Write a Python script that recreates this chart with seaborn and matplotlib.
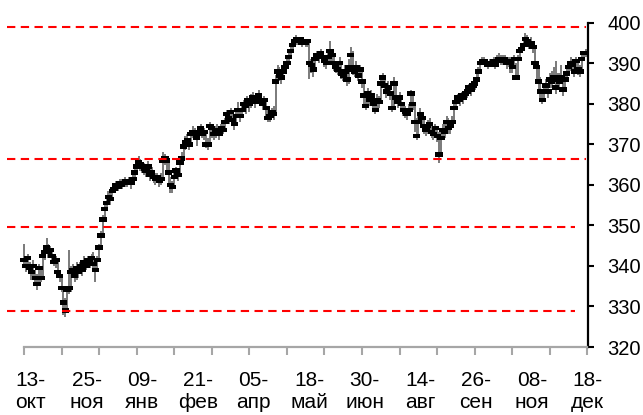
import numpy as np
import pandas as pd
import matplotlib
matplotlib.use("Agg")
import matplotlib.pyplot as plt
from matplotlib.ticker import NullFormatter
import seaborn as sns

# ---------------- data ----------------
close = [
    341.5, 340, 342, 339.5, 338.5, 340, 337, 335.5, 339.5, 337,
    342.5, 343.5, 344.5, 343.5, 344, 342.5, 341, 341.5, 338.5, 337.5,
    334.5, 331, 329, 334, 334.5, 338.5, 339, 337.5, 339.5, 338.5,
    340, 339, 341, 340, 341.5, 341, 342, 340.5, 339, 341.5,
    344.5, 347.5, 351.5, 354, 355.5, 357, 356.5, 358.5, 359, 360,
    359.5, 360.5, 360, 360.5, 361, 360.5, 361, 360.5, 361.5, 363,
    364.5, 365.5, 365, 364.5, 364, 363.5, 364.5, 362.5, 363, 362,
    361.5, 362, 361, 361.5, 366, 366.5, 366, 363, 360, 359.5,
    362, 363.5, 362.5, 365.5, 366.5, 369.5, 370.5, 371, 370, 372.5,
    373, 372.5, 371.5, 373, 374, 372.5, 373, 370, 370, 374.5,
    374, 372.5, 373, 373.5, 372.5, 374, 373.5, 375.5, 377.5, 376.5,
    378, 376, 375, 377, 378.5, 377, 378.5, 380, 379.5, 381,
    380, 380.5, 381.5, 380.5, 381.5, 382, 381, 380, 381, 379,
    376.5, 377, 378, 377.5, 385.5, 388, 387, 386.5, 388, 389,
    390, 391.5, 393, 394.5, 395.5, 396, 395.5, 396, 395, 395.5,
    395, 395.5, 390, 389.5, 388.5, 391, 392, 391.5, 392.5, 391.5,
    390.5, 390, 391.5, 393, 392, 390, 389, 388.5, 390, 387.5,
    387, 388, 386, 389, 392, 388.5, 388, 389, 387, 388.5,
    385.5, 382, 379.5, 382.5, 381, 382, 380, 378.5, 381, 380.5,
    385, 386.5, 384.5, 383, 384, 382.5, 379, 385, 381.5, 380.5,
    381.5, 380, 378.5, 378, 377.5, 378.5, 382.5, 380, 375.5, 372,
    375.5, 377.5, 376.5, 374.5, 373.5, 374.5, 375, 373, 372.5, 374,
    372, 367.5, 371.5, 373.5, 373, 375.5, 374, 374.5, 375.5, 379,
    380.5, 381.5, 381, 382, 381.5, 382.5, 383, 384, 383.5, 384.5,
    385, 386, 388, 390, 390.5, 390.5, 390, 389.5, 390, 390,
    390.5, 389.5, 390.5, 391, 391, 390.5, 391, 390, 390.5, 390,
    389, 391, 386.5, 391, 393, 393.5, 394.5, 396, 395.5, 394.5,
    395, 394, 390, 389, 385.5, 383, 381, 383, 384.5, 383,
    386, 385.5, 386.5, 384, 386, 385.5, 386.5, 383.5, 386, 387.5,
    389, 390, 389.5, 388, 390.5, 388.5, 388, 391, 392.5, 392.5, 392.5,
]
high = [
    345.5, 342, 343, 341, 340, 341.5, 339, 338, 340.5, 339.5,
    343, 344.5, 347, 345.5, 345, 344.5, 343, 342.5, 341.5, 339,
    337.5, 335, 332, 335, 344, 340, 340.5, 339.5, 341, 340,
    341, 341, 342.5, 341.5, 342.5, 342.5, 343, 343.5, 341, 342.5,
    345.5, 348.5, 352.5, 355.5, 357, 358.5, 358, 359.5, 360, 361,
    361, 361.5, 361.5, 361.5, 362, 361.5, 362, 362, 363, 364,
    366, 367, 366.5, 365.5, 365.5, 365, 366, 364, 364.5, 363.5,
    363, 363, 362.5, 363, 368, 367.5, 367, 366, 362, 361,
    363, 364.5, 364, 366.5, 368, 371, 372, 372.5, 371.5, 373.5,
    374.5, 374, 373, 374, 375, 374.5, 374, 373, 371.5, 375.5,
    375, 374.5, 374.5, 375, 374, 375, 375.5, 376.5, 378.5, 378,
    379, 378.5, 376.5, 378, 380.5, 378.5, 379.5, 381, 381, 382,
    381.5, 382.5, 383, 382, 382.5, 383.5, 382.5, 381.5, 382, 381,
    379, 378, 379, 379.5, 387, 389.5, 389, 388, 389.5, 390.5,
    391, 392.5, 394.5, 396, 396.5, 397, 396.5, 396.5, 396, 396,
    396, 396, 395.5, 391, 390.5, 392, 393, 393, 393.5, 393,
    392, 391.5, 393, 395.5, 393.5, 391.5, 390.5, 390, 391.5, 389.5,
    388.5, 389.5, 388, 391, 394, 393, 389.5, 390.5, 389, 389.5,
    388, 386, 383, 384, 383, 383.5, 382, 380.5, 382.5, 382,
    386.5, 387.5, 386.5, 384.5, 385.5, 384, 383, 386.5, 384.5, 382,
    383, 382, 380, 379.5, 379, 380, 383.5, 383, 380.5, 376.5,
    377, 379, 378, 376.5, 375, 376, 376.5, 375, 374.5, 375,
    374.5, 373, 373, 375, 375.5, 377, 376.5, 376, 377, 380.5,
    381.5, 382.5, 382.5, 383, 383, 383.5, 384, 385, 385, 385.5,
    386, 387.5, 389, 391, 391.5, 391.5, 391, 390.5, 391, 391,
    391.5, 391, 392, 392.5, 392, 392, 392, 391.5, 391.5, 391.5,
    391, 392, 390, 392, 394, 394.5, 396, 397.5, 397, 396,
    396.5, 395.5, 394.5, 390.5, 389.5, 386.5, 383.5, 384.5, 386, 385,
    387.5, 388, 389, 390.5, 387.5, 387.5, 389.5, 387, 387.5, 389,
    390, 391.5, 391, 390, 391.5, 390.5, 389.5, 392, 393, 393.5, 393,
]
low = [
    339.5, 338.5, 339.5, 338, 336.5, 337, 335, 334, 335.5, 336,
    337, 341.5, 343, 342, 342.5, 341, 340, 339.5, 337.5, 336,
    333.5, 328, 327.5, 328.5, 333, 333.5, 337, 336, 336.5, 337,
    338, 337.5, 338.5, 339, 340, 339.5, 340.5, 339, 336, 338.5,
    341, 344, 347, 351, 353.5, 355, 355, 356, 358, 358.5,
    358.5, 359, 359, 359.5, 359.5, 359.5, 360, 359, 360, 361,
    362.5, 364, 363.5, 363, 362.5, 362, 362.5, 361, 361.5, 360.5,
    360, 360.5, 359.5, 360, 361, 365, 363.5, 360, 358, 358,
    359.5, 361.5, 361, 362.5, 365, 366, 368.5, 369.5, 368.5, 370,
    371.5, 371, 369.5, 371, 372.5, 371.5, 371, 369, 368.5, 370,
    371.5, 371, 371.5, 372, 371, 372, 372.5, 373, 375, 375,
    376, 374.5, 373.5, 374.5, 376.5, 375.5, 376.5, 378, 377.5, 379,
    378, 379, 380, 379, 380, 380.5, 379.5, 378.5, 379, 377,
    375.5, 375.5, 376.5, 376, 377, 385, 385.5, 385, 386, 387.5,
    388.5, 389.5, 391, 392.5, 394, 394.5, 394.5, 394.5, 394, 394.5,
    394, 394, 386, 387.5, 386.5, 388, 390.5, 390, 391, 390,
    389, 388.5, 389.5, 390.5, 390, 388, 387.5, 387, 388, 386,
    385.5, 386, 384.5, 385, 388, 387, 386.5, 387, 385.5, 386.5,
    384, 379, 378.5, 380, 379.5, 380, 378.5, 377.5, 378, 379,
    380.5, 384.5, 383, 381.5, 382, 381, 378, 379, 380, 379,
    379.5, 378.5, 377, 376.5, 376, 377, 378, 378.5, 373, 371,
    372, 375, 374.5, 372.5, 372, 372.5, 373, 371.5, 371, 372,
    370.5, 365.5, 367, 371, 371.5, 373, 372.5, 372.5, 374, 375,
    379, 380, 379.5, 380.5, 380, 381, 381.5, 382.5, 382, 383,
    383.5, 384.5, 385.5, 387.5, 389.5, 389.5, 389, 388.5, 389, 389,
    389.5, 388.5, 389, 390, 389.5, 389.5, 390, 388.5, 389, 387.5,
    387.5, 388.5, 386, 386.5, 391, 392.5, 393, 394.5, 394, 393.5,
    393.5, 392.5, 388.5, 385, 383.5, 381, 380, 380.5, 382.5, 381.5,
    384, 384, 385, 382.5, 384, 384, 385, 382, 383, 385.5,
    387, 388, 388, 386.5, 388, 387, 386.5, 387.5, 391, 391.5, 391.5,
]
levels_long = [399.0, 366.5]
levels_short = [349.5, 328.8]
x_labels = ["13-\nокт", "25-\nноя", "09-\nянв", "21-\nфев", "05-\nапр", "18-\nмай",
            "30-\nиюн", "14-\nавг", "26-\nсен", "08-\nноя", "18-\nдек"]
y_ticks = [320, 330, 340, 350, 360, 370, 380, 390, 400]

df = pd.DataFrame({"day": np.arange(len(close)), "close": close, "high": high, "low": low})
n = len(close) - 1

# ---------------- style ----------------
sns.set_style("white")
plt.rcParams["font.family"] = ["Liberation Sans", "DejaVu Sans"]

fig = plt.figure(figsize=(6.43, 4.15), dpi=100)
ax = fig.add_axes([5 / 643, 68 / 415, 583 / 643, 324.3 / 415])

ax.vlines(df["day"], df["low"], df["high"], color="#7a7a7a", lw=1.4, zorder=1)
rect = [(-1, -0.6), (1, -0.6), (1, 0.6), (-1, 0.6), (-1, -0.6)]
sns.scatterplot(data=df, x="day", y="close", marker=rect, s=28, color="black",
                edgecolor="none", linewidth=0, ax=ax, zorder=2, legend=False)

dash = (0, (4, 2.6))
ax.hlines(levels_long, -9.0, n - 1, colors="#ff0000", lw=1.5, linestyles=[dash], zorder=3)
ax.hlines(levels_short, -9.0, n - 6.4, colors="#ff0000", lw=1.5, linestyles=[dash], zorder=3)

ax.set_xlim(-10.1, n + 0.3)
ax.set_ylim(320, 400)
ax.set_xlabel("")
ax.set_ylabel("")

for s in ("left", "top"):
    ax.spines[s].set_visible(False)
ax.spines["right"].set_color("black")
ax.spines["right"].set_linewidth(1.6)
ax.spines["bottom"].set_color("#a6a6a6")
ax.spines["bottom"].set_linewidth(1.6)
ax.spines["bottom"].set_bounds(0, n)

ax.yaxis.tick_right()
ax.set_yticks(y_ticks)
ax.set_yticklabels([str(v) for v in y_ticks])
ax.tick_params(axis="y", which="major", direction="out", length=4, width=1.5,
               color="black", pad=10, labelsize=14.5, labelcolor="black",
               right=True, left=False)

ax.xaxis.remove_overlapping_locs = False
ax.set_xticks(np.arange(0, n + 1, 20))
ax.xaxis.set_major_formatter(NullFormatter())
ax.tick_params(axis="x", which="major", direction="out", length=6, width=1.5,
               color="#a6a6a6", bottom=True)
ax.set_xticks(np.linspace(3.7, n, len(x_labels)), minor=True)
ax.set_xticklabels(x_labels, minor=True)
ax.tick_params(axis="x", which="minor", length=0, pad=17, labelsize=15,
               labelcolor="black")
for t in ax.get_xticklabels(minor=True):
    t.set_linespacing(1.25)
ax.grid(False)

fig.savefig("out.png", dpi=100)
